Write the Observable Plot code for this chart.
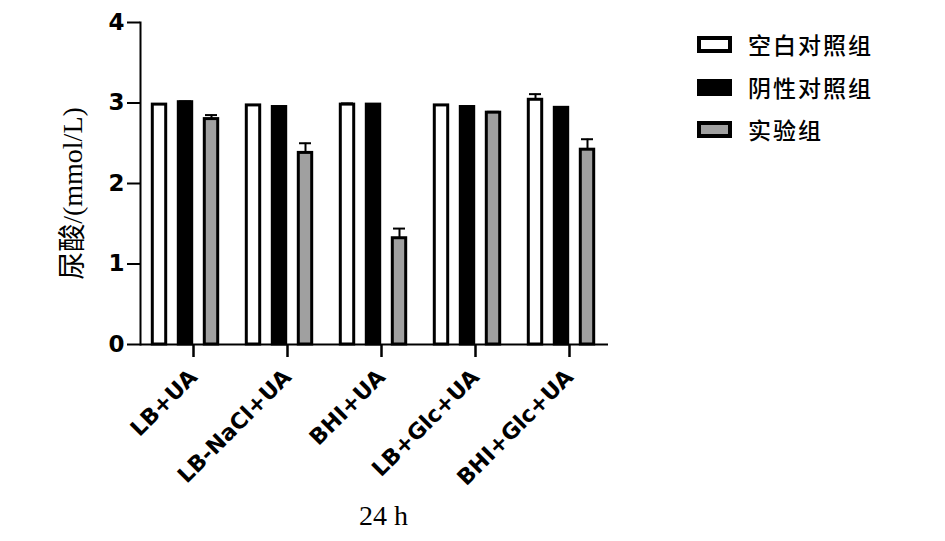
<!DOCTYPE html>
<html>
<head>
<meta charset="utf-8">
<script src="https://cdn.jsdelivr.net/npm/d3@7"></script>
<script src="https://cdn.jsdelivr.net/npm/@observablehq/plot@0.6"></script>
<style>
  html, body { margin: 0; padding: 0; background: #fff; }
  #wrap { position: relative; width: 945px; height: 541px; overflow: hidden; }
  #chart { position: absolute; left: 0; top: 0; }
  .legend { position: absolute; left: 697px; top: 0; font-family: "Noto Sans CJK SC", sans-serif; font-size: 23px; font-weight: 500; color: #000; }
  .row { position: absolute; left: 0; width: 220px; height: 30px; display: flex; align-items: center; white-space: nowrap; }
  .sw { width: 27px; height: 9px; border: 4px solid #000; margin-right: 16px; flex: none; }
  .lbl { letter-spacing: 2px; }
</style>
</head>
<body>
<div id="wrap"><div id="chart"></div><div class="legend" id="legend"></div></div>
<script>
const categories = ["LB+UA", "LB-NaCl+UA", "BHI+UA", "LB+Glc+UA", "BHI+Glc+UA"];
const seriesNames = ["空白对照组", "阴性对照组", "实验组"];
const seriesColors = ["#ffffff", "#000000", "#a0a0a0"];
const blankValues = [2.98, 2.97, 2.98, 2.97, 3.04];
const blankErrors = [0.005, 0.005, 0.015, 0.005, 0.07];
const negativeValues = [3.01, 2.95, 2.98, 2.95, 2.94];
const negativeErrors = [0.01, 0.005, 0.005, 0.005, 0.005];
const experimentValues = [2.80, 2.38, 1.32, 2.88, 2.42];
const experimentErrors = [0.05, 0.12, 0.12, 0.01, 0.13];
const yTicks = [0, 1, 2, 3, 4];
const yLabel = "尿酸/(mmol/L)";
const xLabel = "24 h";

const valueSets = [blankValues, negativeValues, experimentValues];
const errorSets = [blankErrors, negativeErrors, experimentErrors];

const marks = [];
seriesNames.forEach((s, i) => {
  const rows = categories.map((c, j) => ({cat: c, series: s, value: valueSets[i][j], err: errorSets[i][j]}));
  const dx = (i - 1) * 26;
  marks.push(Plot.ruleX(rows, {x: "cat", y1: "value", y2: d => d.value + d.err, stroke: "#000", strokeWidth: 2, dx}));
  marks.push(Plot.tickY(rows, {x: "cat", y: d => d.value + d.err, stroke: "#000", strokeWidth: 2, insetLeft: 41, insetRight: 41, dx}));
  marks.push(Plot.barY(rows, {x: "cat", y: "value", fill: seriesColors[i], stroke: "#000", strokeWidth: 3, insetLeft: 40.3, insetRight: 40.3, dx}));
});

const chart = Plot.plot({
  width: 945,
  height: 541,
  marginLeft: 140,
  marginRight: 337,
  marginTop: 22,
  marginBottom: 197,
  style: {background: "#fff", color: "#000"},
  x: {domain: categories, range: [136, 609], padding: 0, axis: null},
  y: {domain: [0, 4], axis: null},
  marks: [
    ...marks,
    Plot.frame({anchor: "left", stroke: "#000", strokeWidth: 2}),
    Plot.ruleY([0], {stroke: "#000", strokeWidth: 2}),
    Plot.axisY({ticks: yTicks, tickSize: 13, tickPadding: 3, strokeWidth: 2, label: null,
      fontFamily: "DejaVu Sans", fontWeight: "bold", fontSize: 23, tickFormat: d3.format("d")}),
    Plot.axisX({tickSize: 13, tickPadding: 16, tickRotate: -45, strokeWidth: 2.5, label: null,
      fontFamily: "DejaVu Sans", fontWeight: "bold", fontSize: 22, dx: 8}),
    Plot.text([yLabel], {frameAnchor: "left", textAnchor: "middle", rotate: -90, dx: -67, dy: 10, fontSize: 28,
      fontFamily: "Liberation Serif, Noto Sans CJK SC, serif", lineAnchor: "middle"}),
    Plot.text([xLabel], {frameAnchor: "bottom", dx: 9, dy: 172, fontSize: 28,
      fontFamily: "Liberation Serif, serif", lineAnchor: "middle"})
  ]
});
document.getElementById("chart").appendChild(chart);

const legend = document.getElementById("legend");
const rowTops = [29, 72, 114];
seriesNames.forEach((s, i) => {
  const row = document.createElement("div");
  row.className = "row";
  row.style.top = rowTops[i] + "px";
  const sw = document.createElement("div");
  sw.className = "sw";
  sw.style.background = seriesColors[i];
  const t = document.createElement("span");
  t.className = "lbl";
  t.textContent = s;
  row.appendChild(sw);
  row.appendChild(t);
  legend.appendChild(row);
});
</script>
</body>
</html>
